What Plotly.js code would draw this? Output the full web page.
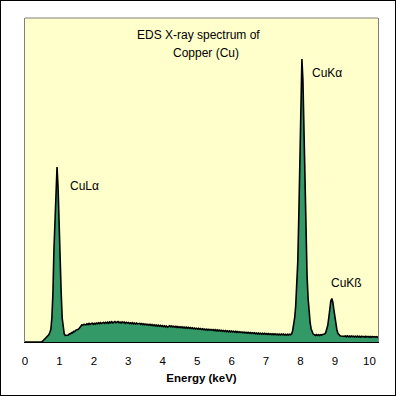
<!DOCTYPE html>
<html>
<head>
<meta charset="utf-8">
<script src="https://cdn.plot.ly/plotly-3.0.1.min.js"></script>
<style>
html,body{margin:0;padding:0;background:#fff;}
#chart{width:394px;height:394px;border:1px solid #000;}
</style>
</head>
<body>
<div id="chart"></div>
<script>
// Energy grid: first channel energy and channel width (keV)
const energyStart = 0.0;
const energyStep = 0.03;

// Counts per channel (10 channels per row, 0.3 keV per row)
const counts = [
  0, 0, 0, 0, 0, 0, 0, 0, 0, 0,               // 0.00-0.27
  0, 0, 0, 0, 0, 0, 0, 8, 18, 30,             // 0.30-0.57
  40, 48, 60, 72, 95, 125, 240, 480, 920, 1220, // 0.60-0.87
  1520, 1750, 1550, 1130, 780, 500, 240, 120, 80, 65, // 0.90-1.17
  66, 74, 69, 82, 81, 94, 92, 105, 103, 117,  // 1.20-1.47
  118, 125, 131, 145, 158, 170, 168, 177, 175, 171, // 1.50-1.77
  182, 174, 186, 176, 184, 188, 177, 187, 179, 190, // 1.80-2.07
  182, 192, 184, 194, 185, 191, 196, 186, 197, 189, // 2.10-2.37
  198, 188, 201, 192, 203, 191, 200, 205, 193, 201, // 2.40-2.67
  204, 193, 200, 190, 202, 192, 199, 187, 197, 189, // 2.70-2.97
  195, 185, 192, 183, 193, 182, 190, 180, 189, 181, // 3.00-3.27
  182, 187, 176, 184, 174, 182, 172, 180, 170, 178, // 3.30-3.57
  168, 177, 166, 174, 163, 172, 161, 170, 159, 168, // 3.60-3.87
  158, 166, 156, 164, 153, 162, 151, 159, 148, 157, // 3.90-4.17
  162, 153, 160, 151, 158, 148, 156, 146, 154, 145, // 4.20-4.47
  152, 143, 151, 141, 149, 139, 148, 138, 146, 137, // 4.50-4.77
  144, 135, 142, 132, 140, 130, 138, 128, 136, 127, // 4.80-5.07
  134, 125, 132, 122, 130, 120, 129, 118, 127, 119, // 5.10-5.37
  126, 117, 124, 114, 123, 112, 121, 111, 119, 110, // 5.40-5.67
  117, 108, 115, 106, 114, 104, 112, 102, 111, 101, // 5.70-5.97
  110, 100, 108, 98, 106, 96, 105, 95, 103, 94,     // 6.00-6.27
  101, 92, 99, 90, 98, 88, 97, 87, 95, 86,          // 6.30-6.57
  93, 85, 92, 83, 90, 81, 89, 80, 88, 79,           // 6.60-6.87
  87, 78, 86, 77, 85, 76, 84, 75, 83, 74,           // 6.90-7.17
  82, 73, 81, 72, 80, 71, 79, 70, 80, 72,           // 7.20-7.47
  79, 70, 78, 69, 77, 70, 78, 72, 80, 110,          // 7.50-7.77
  160, 240, 360, 550, 800, 1250, 1900, 2400, 2830, 2620, // 7.80-8.07
  2150, 1400, 970, 660, 440, 290, 190, 130, 95, 78, // 8.10-8.37
  74, 66, 75, 65, 73, 66, 74, 68, 76, 78,           // 8.40-8.67
  80, 92, 125, 165, 240, 340, 410, 435, 395, 320,   // 8.70-8.97
  240, 165, 115, 85, 70, 63, 60, 57, 60, 56,        // 9.00-9.27
  60, 53, 61, 52, 59, 51, 60, 53, 58, 50,           // 9.30-9.57
  58, 51, 59, 50, 57, 49, 58, 51, 56, 48,           // 9.60-9.87
  57, 49, 56, 48, 55, 47, 56, 49, 54, 48,           // 9.90-10.17
  54, 47, 53                                        // 10.20-10.26
];

// Tick values / labels on the energy axis
const tickValues = [0, 1, 2, 3, 4, 5, 6, 7, 8, 9, 10];
const tickLabels = ['0', '1', '2', '3', '4', '5', '6', '7', '8', '9', '10'];

// Peak labels
const peakNames = ['CuLα', 'CuKα', 'CuKß'];
const peakLabelX = [1.25, 8.27, 8.82];
const peakLabelY = [1560, 2690, 590];

const titleLine1 = 'EDS X-ray spectrum of';
const titleLine2 = 'Copper (Cu)';
const xTitle = 'Energy (keV)';

const FONT = 'Arial, "Liberation Sans", sans-serif';

const trace = {
  type: 'scatter',
  mode: 'lines',
  x0: energyStart,
  dx: energyStep,
  y: counts,
  fill: 'tozeroy',
  fillcolor: '#339966',
  line: {color: '#000000', width: 1.6, shape: 'linear'},
  hoverinfo: 'skip'
};

const annotations = peakNames.map((t, i) => ({
  text: t, x: peakLabelX[i], y: peakLabelY[i], xref: 'x', yref: 'y',
  xanchor: 'left', yanchor: 'middle', showarrow: false,
  font: {family: FONT, size: 12, color: '#000'}
}));
annotations.push({
  text: titleLine1, x: 5.05, y: 3070, xref: 'x', yref: 'y',
  xanchor: 'center', yanchor: 'middle', showarrow: false,
  font: {family: FONT, size: 12, color: '#000'}
});
annotations.push({
  text: titleLine2, x: 5.27, y: 2895, xref: 'x', yref: 'y',
  xanchor: 'center', yanchor: 'middle', showarrow: false,
  font: {family: FONT, size: 12, color: '#000'}
});

const layout = {
  width: 394, height: 394,
  margin: {l: 24, r: 17, t: 17, b: 53, pad: 0},
  paper_bgcolor: '#ffffff',
  plot_bgcolor: '#FFFFCC',
  showlegend: false,
  font: {family: FONT, size: 11, color: '#000'},
  xaxis: {
    range: [0, 10.25],
    tickmode: 'array', tickvals: tickValues, ticktext: tickLabels,
    ticks: '', ticklabelstandoff: 8,
    showgrid: false, zeroline: false,
    showline: true, linecolor: '#000000', linewidth: 1,
    tickfont: {family: FONT, size: 11.5, color: '#000'},
    title: {text: xTitle, font: {family: FONT, size: 11.5, color: '#000', weight: 'bold'}, standoff: 8}
  },
  yaxis: {
    range: [0, 3240],
    showticklabels: false, ticks: '',
    showgrid: false, zeroline: false,
    showline: true, mirror: true, linecolor: '#808080', linewidth: 1
  },
  shapes: [{
    type: 'line', xref: 'paper', yref: 'paper', x0: 0, x1: 1, y0: 1, y1: 1,
    line: {color: '#808080', width: 1}
  }],
  annotations: annotations
};

Plotly.newPlot('chart', [trace], layout, {staticPlot: true, displayModeBar: false});
</script>
</body>
</html>
